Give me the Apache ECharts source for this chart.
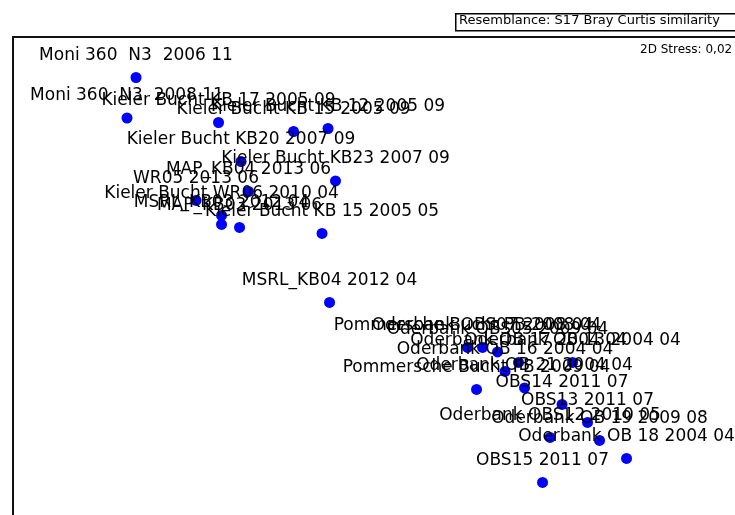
<!DOCTYPE html>
<html>
<head>
<meta charset="utf-8">
<script src="https://cdn.jsdelivr.net/npm/echarts@6/dist/echarts.min.js"></script>
<style>
html,body{margin:0;padding:0;background:#fff;}
#chart{width:735px;height:515px;}
</style>
</head>
<body>
<div id="chart"></div>
<script>
// Sample labels (MDS ordination, PRIMER style)
var sampleNames = [
  "Moni 360  N3  2006 11",
  "Moni 360  N3  2008 11",
  "Kieler Bucht KB 17 2005 09",
  "Kieler Bucht KB 15 2005 09",
  "Kieler Bucht KB 12 2005 09",
  "Kieler Bucht KB20 2007 09",
  "Kieler Bucht KB23 2007 09",
  "MAP_KB04 2013 06",
  "WR05 2013 06",
  "Kieler Bucht WR06 2010 04",
  "MSRL_KB03 2012 04",
  "MAP_KB03 2013 06",
  "Kieler Bucht KB 15 2005 05",
  "MSRL_KB04 2012 04",
  "Pommersche Bucht PB 2008 04",
  "Oderbank OBS07 2008 04",
  "Oderbank OBS05 2009 04",
  "Oderbank OB 17 2004 04",
  "Oderbank OB 13 2004 04",
  "Oderbank OB 16 2004 04",
  "Pommersche Bucht PB 2009 04",
  "Oderbank OB 21 2004 04",
  "OBS14 2011 07",
  "OBS13 2011 07",
  "Oderbank OBS12 2010 05",
  "Oderbank OB 19 2009 08",
  "Oderbank OB 18 2004 04",
  "OBS15 2011 07"
];
// MDS axis 1 values
var mds1 = [-1.58, -1.64, -1.03, -0.53, -0.30, -0.88, -0.25, -0.83, -1.18, -1.01, -1.01, -0.89, -0.34,
            -0.29, 0.63, 0.73, 0.83, 0.97, 1.33, 0.88, 0.69, 1.01, 1.26, 1.43, 1.18, 1.51, 1.69, 1.13];
// MDS axis 2 values
var mds2 = [1.33, 1.06, 1.03, 0.97, 0.99, 0.77, 0.64, 0.57, 0.51, 0.41, 0.35, 0.33, 0.29,
            -0.17, -0.47, -0.47, -0.50, -0.57, -0.57, -0.63, -0.75, -0.74, -0.85, -0.97, -1.07, -1.09, -1.21, -1.37];
var resemblanceText = "Resemblance: S17 Bray Curtis similarity";
var stressText = "2D Stress: 0,02";

var points = sampleNames.map(function (n, i) { return { name: n, value: [mds1[i], mds2[i]] }; });

var chart = echarts.init(document.getElementById('chart'), null, { renderer: 'canvas' });
chart.setOption({
  animation: false,
  backgroundColor: '#ffffff',
  grid: { left: 13, top: 37, right: 0, bottom: 0, containLabel: false },
  xAxis: {
    type: 'value', position: 'top', min: -2.4, max: 2.413,
    axisLine: { show: true, onZero: false, lineStyle: { color: '#111', width: 2 } },
    axisTick: { show: false }, axisLabel: { show: false }, splitLine: { show: false }
  },
  yAxis: {
    type: 'value', position: 'left', min: -1.587, max: 1.6,
    axisLine: { show: true, onZero: false, lineStyle: { color: '#111', width: 2 } },
    axisTick: { show: false }, axisLabel: { show: false }, splitLine: { show: false }
  },
  graphic: [
    { type: 'rect', left: 455, top: 13, shape: { width: 300, height: 17 },
      style: { fill: '#fff', stroke: '#000', lineWidth: 1.5 } },
    { type: 'text', left: 459, top: 14.5,
      style: { text: resemblanceText, font: '13px "DejaVu Sans"', fill: '#000' } },
    { type: 'text', left: 640, top: 44,
      style: { text: stressText, font: '12px "DejaVu Sans"', fill: '#000' } }
  ],
  series: [{
    type: 'scatter',
    data: points,
    symbol: 'circle',
    symbolSize: 11,
    itemStyle: { color: '#0000ff', opacity: 1 },
    label: {
      show: true, position: 'top', distance: 8, opacity: 1,
      formatter: function (p) { return p.name; },
      fontFamily: 'DejaVu Sans', fontSize: 17, color: '#000'
    },
    emphasis: { disabled: true },
    labelLayout: { hideOverlap: false }
  }]
});
</script>
</body>
</html>
